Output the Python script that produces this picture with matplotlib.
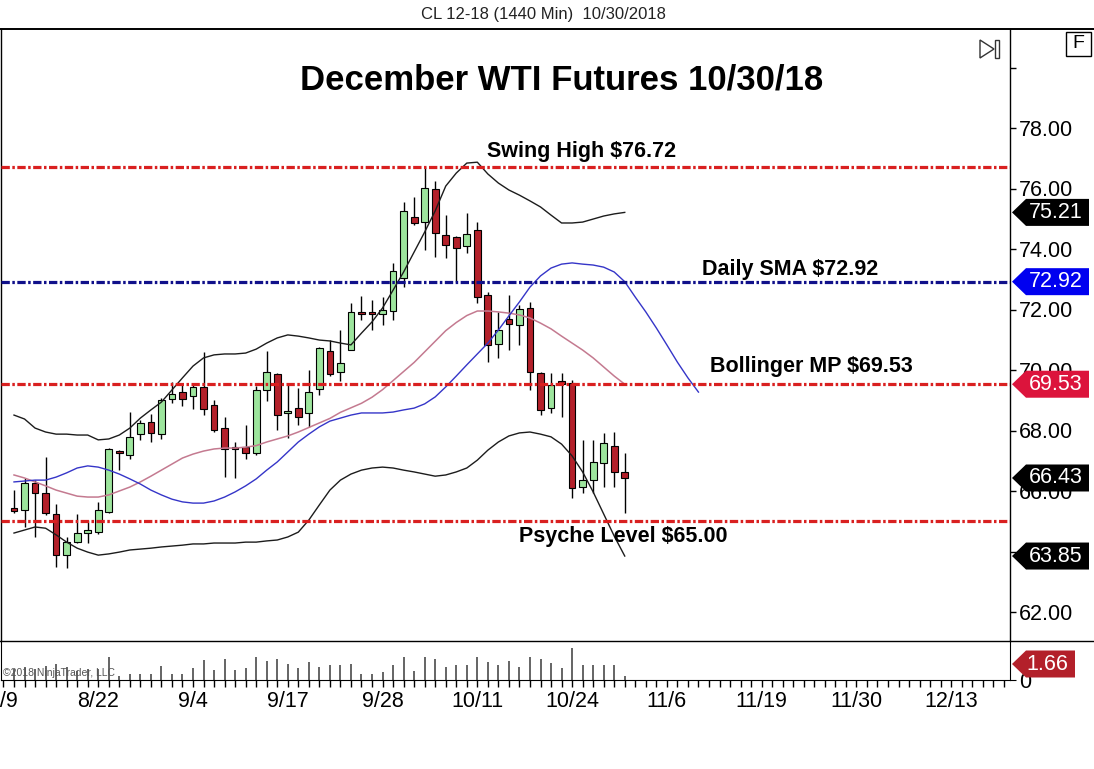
import numpy as np
import matplotlib
matplotlib.use("Agg")
import matplotlib.pyplot as plt
import matplotlib.transforms as mtransforms
from matplotlib.patches import Polygon, Rectangle
from matplotlib.lines import Line2D
from matplotlib.ticker import FixedLocator

plt.rcParams['font.family'] = ['Liberation Sans', 'DejaVu Sans']
plt.rcParams['lines.scale_dashes'] = False

# ---------------- data (daily bars, 8/10/2018 .. 10/31/2018 session) ----------------
opens = [65.44, 65.37, 66.26, 65.93, 65.24, 63.88, 64.31, 64.62, 64.64, 65.31,
         67.32, 67.19, 67.88, 68.28, 67.88, 69.04, 69.27, 69.14, 69.44, 68.84,
         68.08, 67.45, 67.45, 67.26, 69.34, 69.87, 68.58, 68.74, 68.58, 69.37,
         70.63, 69.93, 70.66, 71.92, 71.92, 71.85, 71.95, 73.04, 75.06, 74.89,
         75.98, 74.46, 74.40, 74.10, 74.63, 72.48, 70.86, 71.69, 71.49, 72.05,
         69.90, 68.74, 69.64, 69.57, 66.13, 66.36, 66.93, 67.49, 66.63]
highs = [66.03, 66.43, 66.36, 67.12, 65.57, 64.48, 65.24, 65.04, 65.64, 67.42,
         67.36, 68.61, 68.35, 68.55, 69.07, 69.60, 69.57, 69.57, 70.60, 69.01,
         68.45, 67.62, 68.18, 69.47, 70.63, 69.90, 69.54, 69.40, 70.00, 70.76,
         70.99, 71.32, 72.21, 72.45, 72.31, 72.41, 73.54, 75.55, 75.72, 76.72,
         76.25, 75.12, 74.43, 75.19, 74.89, 72.58, 71.92, 72.48, 72.15, 72.25,
         69.93, 69.90, 69.90, 69.67, 67.69, 67.69, 67.92, 67.95, 67.26]
lows = [65.27, 64.81, 64.48, 65.21, 63.49, 63.45, 64.28, 64.28, 64.58, 65.28,
        66.69, 67.06, 67.69, 67.62, 67.72, 68.91, 68.81, 68.71, 68.51, 67.95,
        66.46, 66.43, 67.06, 67.20, 68.98, 68.02, 67.75, 68.18, 68.12, 69.17,
        69.80, 69.64, 70.66, 71.65, 71.32, 71.49, 71.65, 72.74, 74.79, 73.97,
        73.74, 73.70, 72.91, 73.87, 72.21, 70.26, 70.40, 70.66, 70.83, 69.34,
        68.51, 68.58, 68.45, 65.77, 65.95, 65.93, 66.13, 66.13, 65.27]
closes = [65.34, 66.26, 65.93, 65.27, 63.88, 64.31, 64.61, 64.71, 65.37, 67.39,
          67.26, 67.79, 68.25, 67.92, 69.01, 69.21, 69.04, 69.44, 68.71, 68.02,
          67.39, 67.39, 67.26, 69.34, 69.93, 68.51, 68.64, 68.45, 69.27, 70.73,
          69.87, 70.23, 71.92, 71.85, 71.85, 71.98, 73.27, 75.26, 74.86, 76.02,
          74.53, 74.13, 74.03, 74.50, 72.41, 70.83, 71.32, 71.52, 72.02, 69.93,
          68.68, 69.50, 69.54, 66.10, 66.36, 66.96, 67.59, 66.63, 66.43]
volume_k = [240, 280, 240, 320, 360, 280, 200, 240, 240, 506,
            100, 140, 138, 138, 302, 138, 138, 278, 440, 220,
            466, 220, 278, 506, 424, 466, 360, 278, 408, 300,
            326, 326, 360, 138, 138, 178, 326, 522, 196, 506,
            466, 300, 326, 342, 506, 408, 326, 424, 300, 522,
            466, 380, 278, 710, 326, 326, 342, 326, 100]

bb_upper = [68.51, 68.38, 68.08, 67.95, 67.88, 67.88, 67.85, 67.85, 67.69, 67.72,
            67.85, 68.08, 68.41, 68.68, 68.94, 69.34, 69.74, 70.13, 70.40, 70.50,
            70.53, 70.53, 70.56, 70.69, 70.89, 71.06, 71.16, 71.12, 71.06, 70.99,
            70.96, 70.89, 70.83, 71.22, 71.59, 72.05, 72.64, 73.24, 73.90, 74.56,
            75.26, 76.08, 76.51, 76.84, 76.87, 76.48, 76.18, 75.95, 75.78, 75.59,
            75.39, 75.12, 74.86, 74.86, 74.89, 74.99, 75.09, 75.16, 75.21]
bb_mid = [66.53, 66.43, 66.30, 66.17, 66.03, 65.93, 65.83, 65.80, 65.80, 65.87,
          66.00, 66.13, 66.30, 66.49, 66.69, 66.89, 67.09, 67.22, 67.32, 67.39,
          67.42, 67.42, 67.45, 67.50, 67.62, 67.72, 67.82, 67.95, 68.10, 68.25,
          68.40, 68.60, 68.75, 68.90, 69.10, 69.35, 69.65, 69.95, 70.25, 70.60,
          70.95, 71.30, 71.57, 71.80, 71.95, 71.95, 71.92, 71.88, 71.82, 71.72,
          71.55, 71.36, 71.12, 70.89, 70.66, 70.40, 70.10, 69.80, 69.53]
bb_lower = [64.61, 64.71, 64.81, 64.77, 64.55, 64.31, 64.11, 63.98, 63.88, 63.92,
            63.98, 64.05, 64.08, 64.11, 64.15, 64.18, 64.21, 64.25, 64.25, 64.28,
            64.28, 64.28, 64.31, 64.31, 64.35, 64.38, 64.48, 64.64, 65.04, 65.54,
            66.03, 66.36, 66.56, 66.69, 66.76, 66.79, 66.76, 66.69, 66.63, 66.56,
            66.49, 66.53, 66.63, 66.76, 67.02, 67.35, 67.62, 67.82, 67.92, 67.95,
            67.88, 67.79, 67.55, 67.16, 66.63, 65.97, 65.24, 64.51, 63.85]
# displaced daily SMA (extends 7 bars past the last bar)
sma_displaced = [66.30, 66.33, 66.36, 66.36, 66.46, 66.60, 66.76, 66.83, 66.79, 66.69,
                 66.56, 66.40, 66.23, 66.03, 65.87, 65.73, 65.64, 65.60, 65.60, 65.67,
                 65.80, 65.97, 66.17, 66.40, 66.69, 66.96, 67.29, 67.62, 67.88, 68.12,
                 68.31, 68.41, 68.51, 68.58, 68.58, 68.58, 68.61, 68.68, 68.74, 68.88,
                 69.11, 69.44, 69.80, 70.17, 70.53, 70.89, 71.32, 71.79, 72.25, 72.74,
                 73.11, 73.37, 73.50, 73.54, 73.50, 73.47, 73.40, 73.24, 72.92, 72.41,
                 71.92, 71.39, 70.83, 70.26, 69.74, 69.27]

tick_labels = ['8/9', '8/22', '9/4', '9/17', '9/28', '10/11', '10/24',
               '11/6', '11/19', '11/30', '12/13']
tick_bar_index = [-1, 8, 17, 26, 35, 44, 53, 62, 71, 80, 89]
price_ticks = [62, 64, 66, 68, 70, 72, 74, 76, 78, 80]
price_tick_labels = ['62.00', '', '66.00', '68.00', '70.00', '72.00', '74.00',
                     '76.00', '78.00', '']

level_values = [76.72, 72.92, 69.53, 65.00]
level_colors = ['#D92020', '#10108A', '#D92020', '#D92020']
level_texts = ['Swing High $76.72', 'Daily SMA $72.92',
               'Bollinger MP $69.53', 'Psyche Level $65.00']
text_anchor_bar = [53.9, 73.7, 75.7, 57.9]
text_anchor_price = [77.21, 73.31, 70.13, 64.48]

tag_values = [75.21, 72.92, 69.53, 66.43, 63.85]
tag_colors = ['#000000', '#0000F0', '#DC143C', '#000000', '#000000']
vol_tag_text = '1.66'

title = 'December WTI Futures 10/30/18'
header = 'CL 12-18 (1440 Min)  10/30/2018'

# ---------------- layout ----------------
W, H = 1094, 769
fig = plt.figure(figsize=(W / 100, H / 100), dpi=100)
fig.patch.set_facecolor('white')


def rect(x0, y0, x1, y1):
    return [x0 / W, 1 - y1 / H, (x1 - x0) / W, (y1 - y0) / H]


PX_L, PX_R = 1, 1010
TOP, SEP, BOT = 29, 641, 680
ax = fig.add_axes(rect(PX_L, TOP, PX_R, SEP))
axv = fig.add_axes(rect(PX_L, SEP, PX_R, BOT), sharex=ax)

BAR0_PX, BAR_PX = 14.0, 10.53
PX_PER_USD = 30.25
ax.set_xlim((PX_L - BAR0_PX) / BAR_PX, (PX_R - BAR0_PX) / BAR_PX)
ax.set_ylim(78 - (SEP - 128) / PX_PER_USD, 78 + (128 - TOP) / PX_PER_USD)

FS = 15.5

# candles
x = np.arange(len(opens))
o = np.array(opens)
c = np.array(closes)
up = c >= o
body_bottom = np.minimum(o, c)
body_h = np.maximum(np.abs(c - o), 0.035)
body_colors = np.where(up, '#9DE59D', '#B3202A')
ax.vlines(x, lows, highs, color='black', lw=1.0, zorder=3)
ax.bar(x, body_h, bottom=body_bottom, width=0.64, color=body_colors,
       edgecolor='black', linewidth=0.8, zorder=4)

# indicators
ax.plot(x, bb_upper, color='#1c1c1c', lw=1.0, zorder=5)
ax.plot(x, bb_lower, color='#1c1c1c', lw=1.0, zorder=5)
ax.plot(x, bb_mid, color='#C47A90', lw=1.1, zorder=5)
ax.plot(np.arange(len(sma_displaced)), sma_displaced, color='#3535C8', lw=1.0, zorder=5)

# levels
for v, col in zip(level_values, level_colors):
    ax.axhline(v, color=col, lw=2.3, ls=(0, (6.0, 1.8, 1.8, 1.8)), zorder=6)
for t, bx, by in zip(level_texts, text_anchor_bar, text_anchor_price):
    ax.text(bx, by, t, ha='center', va='center', fontsize=15.5,
            fontweight='bold', color='black', zorder=7)
ax.text(52.0, 79.59, title, ha='center', va='center', fontsize=25,
        fontweight='bold', color='black', zorder=7)

# price axis styling
for s in ['top', 'bottom']:
    ax.spines[s].set_visible(False)
ax.spines['right'].set_linewidth(1.0)
ax.spines['left'].set_linewidth(1.0)
ax.yaxis.tick_right()
ax.set_yticks(price_ticks)
ax.set_yticklabels(price_tick_labels)
ax.tick_params(axis='y', direction='out', length=4.5, width=1.0, pad=2,
               labelsize=FS, colors='black')
ax.tick_params(axis='x', bottom=False, labelbottom=False)

# tags on the price axis
fx = lambda px: (px - PX_L) / (PX_R - PX_L)
trans = mtransforms.blended_transform_factory(ax.transAxes, ax.transData)
hh = 13.5 / PX_PER_USD
for v, col in zip(tag_values, tag_colors):
    poly = Polygon([(fx(1012), v), (fx(1026), v + hh), (fx(1089), v + hh),
                    (fx(1089), v - hh), (fx(1026), v - hh)], closed=True,
                   transform=trans, facecolor=col, edgecolor='none',
                   clip_on=False, zorder=10)
    ax.add_patch(poly)
    ax.text(fx(1056), v, '%.2f' % v, transform=trans, ha='center', va='center',
            fontsize=FS, color='white', clip_on=False, zorder=11)

# volume panel
axv.vlines(x, 0, volume_k, color='#3a3a3a', lw=1.1)
axv.set_ylim(0, 870)
axv.spines['top'].set_visible(False)
axv.yaxis.tick_right()
axv.set_yticks([0])
axv.set_yticklabels(['0'])
axv.tick_params(axis='y', direction='out', length=4.5, pad=2, labelsize=FS)
axv.xaxis.set_major_locator(FixedLocator(tick_bar_index))
axv.set_xticklabels(tick_labels)
axv.xaxis.set_minor_locator(FixedLocator(np.arange(-1, 95)))
axv.tick_params(axis='x', which='major', direction='out', length=5, width=1,
                pad=3, labelsize=FS)
axv.tick_params(axis='x', which='minor', direction='out', length=5, width=1)

vtrans = axv.transAxes
vy = (BOT - 664) / (BOT - SEP)
vh = 13.5 / (BOT - SEP)
axv.add_patch(Polygon([(fx(1012), vy), (fx(1026), vy + vh), (fx(1075), vy + vh),
                       (fx(1075), vy - vh), (fx(1026), vy - vh)], closed=True,
                      transform=vtrans, facecolor='#B3202A', edgecolor='none',
                      clip_on=False, zorder=10))
axv.text(fx(1047), vy, vol_tag_text, transform=vtrans, ha='center', va='center',
         fontsize=FS, color='white', clip_on=False, zorder=11)

# overlay decorations
ov = fig.add_axes([0, 0, 1, 1])
ov.set_xlim(0, W)
ov.set_ylim(H, 0)
ov.axis('off')
ov.patch.set_visible(False)
ov.add_line(Line2D([0, W], [TOP, TOP], color='black', lw=1.4))
ov.add_line(Line2D([0, W], [SEP, SEP], color='black', lw=1.0))
ov.add_patch(Rectangle((1066, 32), 25, 24, fill=False, edgecolor='black', lw=1.0))
ov.text(1078.5, 44, 'F', ha='center', va='center', fontsize=14, color='black')
ov.add_patch(Polygon([(980, 40), (980, 58), (994, 49)], closed=True, fill=False,
                     edgecolor='#333333', lw=1.0))
ov.add_patch(Rectangle((995, 40), 4, 18, fill=False, edgecolor='#333333', lw=1.0))

fig.text(543 / W, 1 - 14 / H, header, ha='center', va='center', fontsize=12,
         family=['Liberation Sans Narrow', 'Liberation Sans', 'DejaVu Sans'],
         color='#222222')
fig.text(3 / W, 1 - 673 / H, '\u00a92018 NinjaTrader, LLC', ha='left',
         va='center', fontsize=7.5, color='#555555')

fig.savefig('out.png', dpi=100, facecolor='white')
